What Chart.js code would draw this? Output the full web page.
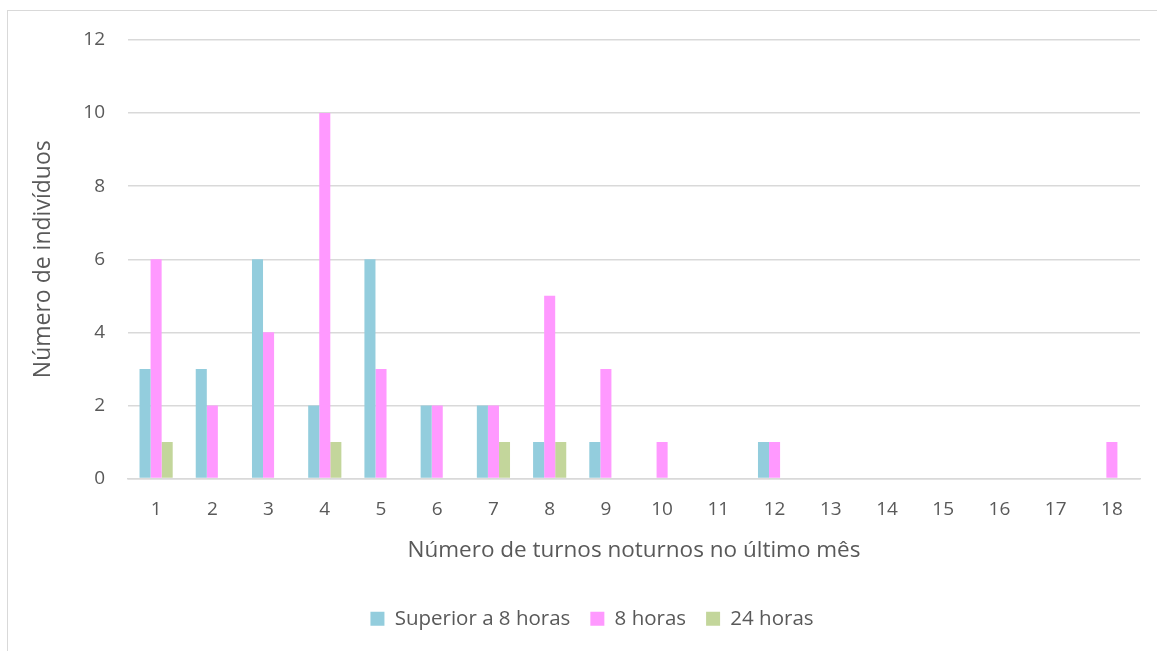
<!DOCTYPE html>
<html>
<head>
<meta charset="utf-8">
<script src="https://cdn.jsdelivr.net/npm/chart.js@4"></script>
<style>
  html, body { margin: 0; padding: 0; background: #fff; overflow: hidden; }
  #frame {
    position: absolute; left: 7px; top: 10px;
    width: 1200px; height: 700px;
    border: 1.5px solid #d9d9d9;
  }
  #wrap { position: absolute; left: 0; top: 0; width: 1157px; height: 651px; }
</style>
</head>
<body>
<div id="frame"></div>
<div id="wrap"><canvas id="turnos" width="1157" height="651"></canvas></div>
<script>
var categorias = ['1', '2', '3', '4', '5', '6', '7', '8', '9', '10', '11', '12', '13', '14', '15', '16', '17', '18'];
var superior8h = [3, 3, 6, 2, 6, 2, 2, 1, 1, 0, 0, 1, 0, 0, 0, 0, 0, 0];
var oitoHoras  = [6, 2, 4, 10, 3, 2, 2, 5, 3, 1, 0, 1, 0, 0, 0, 0, 0, 1];
var vinte4h    = [1, 0, 0, 1, 0, 0, 1, 1, 0, 0, 0, 0, 0, 0, 0, 0, 0, 0];

var fonte = "'Open Sans', 'Noto Sans', sans-serif";
var cinza = '#595959';

// empurra a legenda um pouco para a direita
var deslocaLegenda = {
    id: 'deslocaLegenda',
    afterLayout: function (chart) {
        chart.legend.left += 22;
        chart.legend.right += 22;
    }
};

var ctx = document.getElementById('turnos').getContext('2d');

var grafico = new Chart(ctx, {
    type: 'bar',
    data: {
        labels: categorias,
        datasets: [
            {
                label: 'Superior a 8 horas',
                data: superior8h,
                backgroundColor: '#93cddd'
            },
            {
                label: '8 horas',
                data: oitoHoras,
                backgroundColor: '#ff99ff'
            },
            {
                label: '24 horas',
                data: vinte4h,
                backgroundColor: '#c3d69b'
            }
        ]
    },
    plugins: [deslocaLegenda],
    options: {
        responsive: false,
        maintainAspectRatio: false,
        animation: false,
        categoryPercentage: 0.59,
        barPercentage: 1,
        layout: {
            padding: { left: 0, right: 17, top: 40, bottom: 12 }
        },
        plugins: {
            tooltip: { enabled: false },
            legend: {
                position: 'bottom',
                labels: {
                    color: cinza,
                    font: { family: fonte, size: 20.5 },
                    boxWidth: 14,
                    boxHeight: 14,
                    padding: 20
                }
            }
        },
        scales: {
            x: {
                grid: { display: false, drawTicks: false, tickLength: 0 },
                border: { color: '#d9d9d9', width: 1.5 },
                ticks: {
                    color: cinza,
                    font: { family: fonte, size: 19 },
                    padding: 20
                },
                title: {
                    display: true,
                    text: 'Número de turnos noturnos no último mês',
                    color: cinza,
                    font: { family: fonte, size: 22.5 },
                    padding: { top: 0, bottom: 24 }
                },
                afterFit: function (scale) { scale.height = 110; }
            },
            y: {
                min: 0,
                max: 12,
                ticks: {
                    stepSize: 2,
                    color: cinza,
                    font: { family: fonte, size: 19 },
                    padding: 23
                },
                grid: { color: '#d9d9d9', lineWidth: 1.5, drawTicks: false },
                border: { display: false },
                title: {
                    display: true,
                    text: 'Número de indivíduos',
                    color: cinza,
                    font: { family: fonte, size: 23 },
                    padding: { top: 30, bottom: 0 }
                },
                afterFit: function (scale) { scale.width = 128; }
            }
        }
    }
});
</script>
</body>
</html>
